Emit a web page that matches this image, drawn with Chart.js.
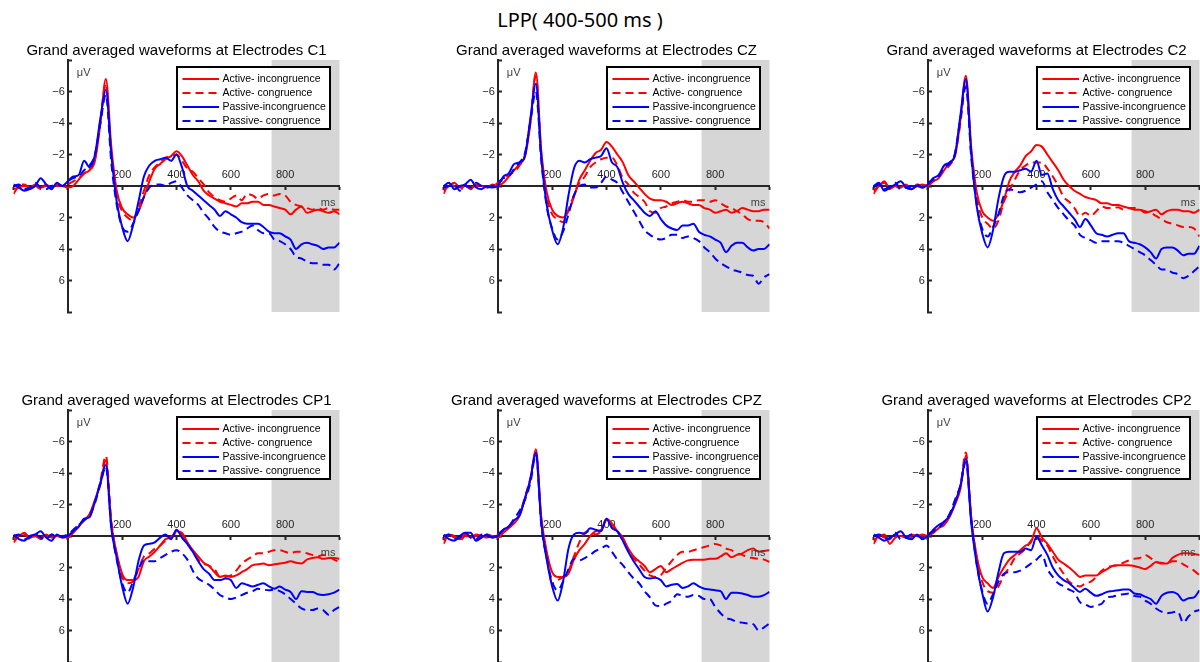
<!DOCTYPE html>
<html>
<head>
<meta charset="utf-8">
<title>LPP (400-500 ms)</title>
<script src="https://cdn.jsdelivr.net/npm/chart.js@4.4.1/dist/chart.umd.min.js"></script>
<style>
  html, body { margin: 0; padding: 0; background: #fff; }
  body { width: 1200px; height: 662px; overflow: hidden; position: relative; }
  #suptitle {
    position: absolute; left: 0; top: 7px; width: 1160px;
    text-align: center; font: 20px "Noto Sans", sans-serif; line-height: 26px;
    color: #000; white-space: pre;
  }
  canvas { position: absolute; }
</style>
</head>
<body>
<div id="suptitle">LPP( 400-500 ms )</div>
<script>
// Epoch sample times (ms)
const TIME_MS = [
  -200, -180, -160, -140, -120, -100, -80, -60, -40, -20,
  0, 20, 40, 60, 80, 100, 120, 140, 160, 180,
  200, 220, 240, 260, 280, 300, 320, 340, 360, 380,
  400, 420, 440, 460, 480, 500, 520, 540, 560, 580,
  600, 620, 640, 660, 680, 700, 720, 740, 760, 780,
  800, 820, 840, 860, 880, 900, 920, 940, 960, 980,
  1000
];

const X_TICK_LABELS = [200, 400, 600, 800];
const Y_TICK_LABELS = [-6, -4, -2, 2, 4, 6];
const SHADE_WINDOW = [750, 1000];

const CONDITIONS = ['Active- incongruence', 'Active- congruence', 'Passive-incongruence', 'Passive- congruence'];
const CONDITIONS_CPZ = ['Active- incongruence', 'Active-congruence', 'Passive- incongruence', 'Passive- congruence'];

// ---- C1 (µV) ----
const C1_ACT_INC = [
  0.2, 0.1, 0.0, 0.1, -0.1, 0.1, 0.0, 0.1, -0.1, 0.0,
  0.1, 0.0, -0.4, -0.8, -1.0, -1.6, -4.0, -6.8, -2.5, 0.3,
  1.4, 1.8, 2.0, 1.6, 0.7, -0.3, -1.1, -1.4, -1.7, -1.9,
  -2.2, -1.9, -1.3, -0.7, -0.3, 0.3, 0.6, 0.8, 1.0, 1.1,
  1.2, 1.3, 1.1, 1.1, 1.0, 1.0, 1.2, 1.2, 1.3, 1.4,
  1.5, 1.8, 1.5, 1.3, 1.7, 1.6, 1.5, 1.6, 1.7, 1.6,
  1.8];
const C1_ACT_CON = [
  0.5, 0.0, -0.1, 0.1, 0.0, 0.2, -0.1, 0.1, 0.0, 0.0,
  -0.1, -0.3, -0.5, -0.8, -1.1, -1.8, -4.2, -6.5, -2.0, 0.6,
  1.6, 2.0, 2.2, 1.4, 0.3, -0.7, -1.2, -1.5, -1.8, -1.9,
  -2.0, -1.6, -1.1, -0.9, -0.5, -0.1, 0.4, 0.7, 0.9, 1.0,
  0.8, 0.6, 0.9, 0.5, 0.6, 0.8, 0.6, 0.5, 0.6, 0.5,
  0.6, 1.0, 1.2, 1.3, 1.4, 1.5, 1.4, 1.5, 1.4, 1.5,
  1.5];
const C1_PAS_INC = [
  -0.1, 0.1, 0.3, 0.2, 0.0, -0.5, -0.1, 0.2, -0.2, 0.0,
  -0.3, -0.6, -0.7, -1.6, -1.2, -2.0, -4.3, -6.1, -2.0, 1.0,
  2.6, 3.5, 2.5, 1.0, -0.6, -1.3, -1.6, -1.7, -1.8, -1.6,
  -2.0, -1.2, 0.0, 0.3, 0.6, 0.9, 1.2, 1.5, 1.9, 1.6,
  1.8, 2.0, 2.3, 2.4, 2.4, 2.4, 2.6, 2.9, 3.0, 3.0,
  3.2, 3.4, 4.0, 3.7, 3.6, 3.7, 3.8, 4.0, 3.9, 3.9,
  3.6];
const C1_PAS_CON = [
  0.0, -0.1, 0.2, 0.1, -0.2, 0.1, 0.2, 0.0, -0.1, 0.0,
  -0.3, -0.5, -0.6, -1.0, -1.3, -2.0, -4.0, -5.8, -1.5, 1.2,
  2.6, 2.9, 2.4, 1.6, 0.7, 0.1, -0.1, -0.1, 0.0, -0.2,
  -0.3, 0.1, 0.6, 0.9, 1.2, 1.7, 2.1, 2.6, 2.9, 3.0,
  3.1, 3.0, 2.9, 2.7, 2.5, 2.8, 3.0, 3.0, 3.4, 3.5,
  3.7, 4.0, 4.5, 4.6, 4.8, 4.9, 4.9, 5.0, 5.0, 5.3,
  4.9];

// ---- CZ (µV) ----
const CZ_ACT_INC = [
  0.3, 0.0, -0.2, 0.1, 0.0, 0.2, -0.1, 0.0, 0.1, -0.1,
  0.0, -0.2, -0.6, -1.0, -1.4, -1.9, -4.0, -7.2, -2.2, 0.4,
  1.5, 1.9, 2.0, 1.6, 0.7, -0.4, -1.0, -1.6, -2.1, -2.3,
  -2.8, -2.5, -2.0, -1.5, -0.7, -0.3, 0.1, 0.5, 0.8, 0.9,
  0.9, 1.0, 1.2, 1.1, 1.0, 1.1, 1.2, 1.2, 1.4, 1.5,
  1.7, 1.6, 1.5, 1.7, 1.6, 1.4, 1.5, 1.6, 1.6, 1.5,
  1.5];
const CZ_ACT_CON = [
  0.5, -0.1, 0.0, 0.3, -0.1, 0.1, 0.0, 0.1, 0.0, 0.0,
  -0.2, -0.4, -0.7, -0.9, -1.3, -2.0, -4.2, -7.0, -2.0, 0.7,
  1.8, 2.1, 2.3, 1.5, 0.6, -0.2, -0.6, -1.2, -1.5, -1.7,
  -1.8, -1.8, -1.3, -0.5, -0.1, 0.4, 0.7, 1.0, 1.6, 1.7,
  1.4, 1.3, 1.1, 1.0, 0.9, 1.0, 1.0, 0.9, 0.9, 1.0,
  0.9, 1.1, 1.3, 1.4, 1.6, 1.8, 2.1, 2.2, 2.2, 2.3,
  2.7];
const CZ_PAS_INC = [
  0.0, -0.2, 0.2, 0.0, -0.1, -0.4, 0.1, 0.2, 0.0, 0.1,
  0.0, -0.6, -0.8, -1.4, -1.5, -1.9, -4.3, -6.5, -1.8, 1.2,
  2.8, 3.7, 2.7, 0.6, -1.1, -1.6, -1.5, -1.7, -1.8, -1.9,
  -2.4, -1.5, -1.2, -0.2, 0.5, 0.9, 1.3, 1.7, 1.9, 1.6,
  2.1, 2.5, 2.7, 2.8, 2.5, 2.5, 2.4, 2.9, 3.1, 3.2,
  3.4, 3.6, 4.2, 3.8, 3.6, 3.6, 3.9, 4.1, 4.0, 4.0,
  3.7];
const CZ_PAS_CON = [
  0.1, 0.0, -0.1, 0.3, 0.0, 0.1, -0.2, 0.0, 0.1, 0.0,
  -0.2, -0.5, -0.6, -1.1, -1.5, -2.1, -4.1, -6.0, -1.6, 1.3,
  2.7, 3.4, 2.9, 1.8, 0.6, 0.0, -0.1, 0.1, 0.1, -0.2,
  -0.6, -0.4, -0.2, 0.4, 1.0, 1.6, 2.2, 2.8, 3.1, 3.3,
  3.4, 3.3, 3.1, 3.1, 3.3, 3.2, 3.3, 3.5, 3.9, 4.2,
  4.6, 4.9, 5.1, 5.3, 5.4, 5.5, 5.65, 5.7, 6.2, 5.8,
  5.6];

// ---- C2 (µV) ----
const C2_ACT_INC = [
  0.3, 0.0, -0.3, 0.2, 0.0, 0.1, -0.1, 0.2, 0.0, -0.1,
  0.0, -0.3, -0.5, -1.0, -1.5, -1.9, -4.2, -7.0, -2.4, 0.4,
  1.6, 2.0, 2.2, 1.8, 0.9, -0.3, -0.9, -1.3, -1.9, -2.2,
  -2.6, -2.5, -2.0, -1.5, -1.0, -0.4, 0.0, 0.3, 0.5, 0.7,
  0.8, 0.9, 1.1, 1.1, 1.2, 1.2, 1.3, 1.4, 1.5, 1.5,
  1.7, 1.6, 1.5, 1.8, 1.6, 1.5, 1.5, 1.6, 1.6, 1.7,
  1.5];
const C2_ACT_CON = [
  0.5, 0.0, -0.2, 0.1, 0.0, 0.2, 0.0, 0.1, -0.1, 0.0,
  -0.1, -0.3, -0.6, -1.0, -1.3, -2.0, -4.0, -6.7, -2.0, 0.8,
  2.0, 2.4, 2.7, 2.2, 1.0, 0.3, -0.4, -1.0, -1.3, -1.5,
  -1.5, -1.5, -1.1, -0.6, 0.0, 0.7, 1.0, 1.4, 1.9, 1.7,
  1.9, 1.6, 1.3, 1.4, 1.4, 1.35, 1.5, 1.4, 1.4, 1.5,
  1.6, 1.7, 1.9, 2.1, 2.3, 2.4, 2.5, 2.6, 2.6, 2.7,
  3.2];
const C2_PAS_INC = [
  0.0, -0.2, 0.3, 0.1, -0.1, -0.3, 0.1, 0.2, 0.0, 0.1,
  -0.1, -0.5, -0.7, -1.3, -1.5, -2.0, -4.5, -6.8, -2.0, 1.3,
  3.0, 3.9, 2.8, 0.8, -0.6, -0.9, -0.9, -1.0, -1.1, -0.9,
  -1.6, -0.7, -0.8, 0.2, 0.9, 1.3, 1.7, 2.1, 2.6, 2.1,
  2.5, 3.0, 3.1, 3.2, 3.1, 3.0, 3.0, 3.5, 3.6, 3.7,
  3.9, 4.2, 4.6, 4.0, 3.9, 3.9, 4.1, 4.4, 4.3, 4.3,
  3.8];
const C2_PAS_CON = [
  0.1, -0.1, 0.2, 0.0, -0.2, 0.2, 0.1, 0.0, -0.1, 0.1,
  -0.2, -0.4, -0.6, -1.2, -1.4, -2.1, -4.3, -6.3, -1.8, 1.2,
  2.7, 3.2, 2.6, 1.8, 0.6, 0.2, 0.3, 0.4, 0.3, 0.1,
  -0.1, -0.3, 0.4, 0.9, 1.4, 1.8, 2.2, 2.5, 3.1, 3.3,
  3.45, 3.6, 3.5, 3.5, 3.5, 3.5, 3.6, 3.8, 4.0, 4.2,
  4.4, 4.7, 5.0, 5.3, 5.3, 5.5, 5.6, 5.85, 5.7, 5.4,
  5.1];

// ---- CP1 (µV) ----
const CP1_ACT_INC = [
  0.2, 0.0, -0.2, 0.1, 0.0, 0.2, -0.1, 0.1, 0.0, 0.0,
  0.1, -0.2, -0.6, -1.0, -1.4, -2.3, -3.3, -4.8, -0.8, 1.1,
  2.4, 2.8, 2.8, 2.6, 1.6, 1.3, 1.0, 0.6, 0.2, 0.1,
  -0.3, -0.2, 0.4, 0.9, 1.3, 1.7, 1.9, 2.3, 2.6, 2.5,
  2.6, 2.5, 2.3, 2.1, 1.85, 1.8, 1.75, 1.85, 1.8, 1.75,
  1.7, 1.6, 1.7, 1.75, 1.5, 1.4, 1.35, 1.45, 1.4, 1.4,
  1.45];
const CP1_ACT_CON = [
  0.4, 0.0, -0.1, 0.2, 0.0, 0.1, 0.1, -0.1, 0.0, 0.1,
  0.0, -0.3, -0.7, -1.0, -1.3, -2.2, -3.5, -5.1, -1.0, 1.2,
  2.6, 3.0, 2.9, 2.1, 1.3, 1.1, 0.8, 0.6, 0.3, 0.1,
  -0.2, -0.1, 0.5, 1.0, 1.5, 1.75, 1.9, 2.1, 2.6, 2.6,
  2.5, 2.2, 1.75, 1.5, 1.3, 1.1, 1.1, 1.0, 0.9, 0.9,
  1.0, 1.1, 1.0, 1.0, 1.1, 1.2, 1.3, 1.2, 1.3, 1.5,
  1.65];
const CP1_PAS_INC = [
  -0.1, 0.2, 0.3, 0.0, -0.1, -0.3, 0.1, 0.3, -0.1, 0.1,
  0.0, -0.3, -0.6, -1.1, -1.2, -2.2, -3.4, -4.5, -0.5, 1.4,
  3.2, 4.3, 3.3, 1.6, 0.6, 0.5, 0.4, 0.1, -0.1, 0.2,
  -0.4, 0.1, 0.5, 1.0, 1.6, 2.1, 2.4, 2.8, 2.8, 2.7,
  2.8, 3.3, 3.0, 3.1, 3.2, 3.1, 3.0, 3.2, 3.35, 3.2,
  3.4, 3.55, 4.0, 3.5, 3.55, 3.55, 3.7, 3.75, 3.7, 3.6,
  3.4];
const CP1_PAS_CON = [
  0.0, -0.1, 0.2, 0.1, -0.1, 0.1, 0.2, -0.1, 0.0, 0.0,
  -0.1, -0.4, -0.7, -1.0, -1.3, -2.1, -3.3, -4.4, -0.6, 1.5,
  3.0, 3.6, 2.9, 2.1, 1.55, 1.6, 1.6, 1.4, 1.2, 1.0,
  0.9, 1.1, 1.5, 2.2, 2.7, 2.9, 3.1, 3.4, 3.75, 3.9,
  4.0, 3.9, 3.75, 3.6, 3.5, 3.35, 3.4, 3.45, 3.4, 3.5,
  3.7, 4.0, 4.3, 4.6, 4.7, 4.7, 4.6, 4.7, 5.0, 4.7,
  4.5];

// ---- CPZ (µV) ----
const CPZ_ACT_INC = [
  0.3, -0.1, 0.1, 0.2, -0.1, 0.1, 0.0, 0.1, -0.1, 0.0,
  0.1, -0.2, -0.5, -0.8, -1.3, -2.4, -3.6, -5.5, -1.2, 1.0,
  2.3, 2.6, 2.6, 2.4, 1.5, 0.9, 0.5, 0.0, -0.3, -0.4,
  -1.1, -0.8, -0.3, 0.1, 0.8, 1.3, 1.6, 1.9, 2.3, 2.1,
  1.9, 2.3, 2.1, 1.9, 1.7, 1.55, 1.5, 1.5, 1.5, 1.45,
  1.45, 1.3, 1.1, 1.35, 1.2, 1.1, 0.9, 0.8, 1.0, 0.95,
  0.9];
const CPZ_ACT_CON = [
  0.5, -0.1, 0.0, 0.3, 0.0, 0.1, -0.1, 0.0, 0.1, 0.0,
  -0.1, -0.3, -0.6, -0.9, -1.4, -2.5, -3.7, -5.3, -1.0, 1.3,
  3.0, 2.8, 2.6, 2.2, 1.3, 0.4, -0.2, -0.3, -0.1, -0.3,
  -1.0, -0.7, -0.3, 0.3, 0.9, 1.4, 1.8, 2.2, 2.5, 2.6,
  2.5, 2.0, 1.6, 1.2, 1.0, 1.0, 0.9, 0.8, 0.7, 0.6,
  0.5, 0.6, 0.8, 0.9, 1.1, 1.2, 1.35, 1.4, 1.45, 1.5,
  1.65];
const CPZ_PAS_INC = [
  -0.1, 0.2, 0.3, 0.0, -0.2, -0.2, 0.3, 0.1, -0.1, 0.1,
  0.0, -0.4, -0.6, -1.0, -1.3, -2.4, -3.6, -5.3, -0.8, 1.5,
  3.2, 4.1, 2.9, 0.8, -0.1, -0.2, -0.15, -0.5, -0.4, -0.3,
  -1.1, -0.5, -0.3, 0.3, 1.0, 1.6, 2.1, 2.6, 2.7, 2.65,
  2.8, 3.2, 3.1, 3.05, 3.3, 3.2, 3.0, 3.2, 3.35, 3.4,
  3.45, 3.5, 4.0, 3.6, 3.6, 3.65, 3.75, 3.85, 3.85, 3.75,
  3.55];
const CPZ_PAS_CON = [
  0.0, -0.1, 0.2, 0.1, -0.2, 0.1, 0.2, -0.1, 0.0, 0.1,
  -0.1, -0.4, -0.6, -1.1, -1.6, -2.3, -3.4, -5.2, -0.7, 1.4,
  2.9, 3.45, 2.9, 2.1, 1.45, 1.55, 1.4, 1.2, 0.95, 0.8,
  0.6, 1.0, 1.5, 1.85, 2.3, 2.7, 3.0, 3.5, 3.9, 4.4,
  4.45, 4.3, 4.1, 3.7, 3.8, 3.85, 3.75, 3.8, 4.0, 4.0,
  4.5, 4.9, 5.2, 5.3, 5.45, 5.5, 5.55, 5.6, 6.0, 5.8,
  5.55];

// ---- CP2 (µV) ----
const CP2_ACT_INC = [
  0.3, 0.0, -0.1, 0.5, 0.1, 0.0, 0.1, -0.1, 0.0, -0.1,
  0.0, -0.2, -0.5, -0.7, -1.2, -2.0, -3.0, -5.1, -1.0, 1.3,
  2.6, 3.0, 3.3, 2.6, 2.0, 1.5, 1.2, 0.9, 0.6, 0.4,
  -0.5, 0.1, 0.5, 1.0, 1.5, 1.75, 2.0, 2.3, 2.6, 2.5,
  2.5, 2.5, 2.3, 2.1, 1.9, 1.85, 1.85, 1.85, 1.9, 2.0,
  2.1, 1.9, 1.65, 1.75, 1.75, 1.4, 1.2, 1.1, 1.1, 1.15,
  1.2];
const CP2_ACT_CON = [
  0.5, 0.0, 0.1, 0.2, -0.1, 0.1, 0.0, 0.1, 0.0, 0.0,
  -0.1, -0.3, -0.5, -0.9, -1.3, -2.2, -3.2, -5.3, -1.2, 1.4,
  2.9, 3.5, 3.6, 3.2, 2.5, 2.0, 1.4, 1.1, 0.8, 0.3,
  0.05, 0.3, 0.6, 1.3, 1.9, 2.4, 2.9, 3.1, 3.2, 3.0,
  2.9, 2.6, 2.2, 2.0, 1.9, 1.85, 1.7, 1.55, 1.45, 1.4,
  1.2, 1.4, 1.65, 1.7, 1.75, 1.6, 1.6, 1.8, 2.0, 2.2,
  2.5];
const CP2_PAS_INC = [
  -0.1, 0.1, 0.3, 0.1, -0.1, -0.3, 0.1, 0.2, -0.1, 0.2,
  0.0, -0.4, -0.7, -0.9, -1.3, -2.1, -3.2, -4.9, -0.8, 1.8,
  3.6, 4.8, 3.9, 2.3, 1.1, 1.0, 1.0, 1.0, 0.8, 0.9,
  0.05, 0.6, 1.2, 2.0, 2.5, 2.8, 3.0, 3.3, 3.55, 3.35,
  3.6, 3.8, 3.7, 3.55, 3.5, 3.45, 3.4, 3.4, 3.65, 3.7,
  3.85, 4.0, 4.3, 3.8, 3.6, 3.55, 3.7, 4.1, 3.95, 3.9,
  3.45];
const CP2_PAS_CON = [
  0.0, -0.1, 0.1, 0.2, -0.2, 0.2, 0.1, -0.1, 0.0, 0.1,
  -0.1, -0.3, -0.5, -0.9, -1.4, -2.3, -3.2, -4.7, -1.0, 1.8,
  3.5, 4.3, 3.7, 2.9, 2.4, 2.3, 2.3, 2.2, 2.0, 1.75,
  1.5, 1.2, 2.1, 2.6, 3.0, 3.2, 3.4, 3.6, 4.2, 4.35,
  4.5, 4.4, 4.3, 3.9, 3.85, 3.75, 3.7, 3.65, 3.8, 3.85,
  4.1, 4.3, 4.6, 4.8, 4.9, 4.85, 4.8, 5.5, 5.1, 4.8,
  4.7];

const PANELS = [
  { name: 'C1',  col: 0, row: 0, labels: CONDITIONS,     series: [C1_ACT_INC, C1_ACT_CON, C1_PAS_INC, C1_PAS_CON] },
  { name: 'CZ',  col: 1, row: 0, labels: CONDITIONS,     series: [CZ_ACT_INC, CZ_ACT_CON, CZ_PAS_INC, CZ_PAS_CON] },
  { name: 'C2',  col: 2, row: 0, labels: CONDITIONS,     series: [C2_ACT_INC, C2_ACT_CON, C2_PAS_INC, C2_PAS_CON] },
  { name: 'CP1', col: 0, row: 1, labels: CONDITIONS,     series: [CP1_ACT_INC, CP1_ACT_CON, CP1_PAS_INC, CP1_PAS_CON] },
  { name: 'CPZ', col: 1, row: 1, labels: CONDITIONS_CPZ, series: [CPZ_ACT_INC, CPZ_ACT_CON, CPZ_PAS_INC, CPZ_PAS_CON] },
  { name: 'CP2', col: 2, row: 1, labels: CONDITIONS,     series: [CP2_ACT_INC, CP2_ACT_CON, CP2_PAS_INC, CP2_PAS_CON] }
];

const LINE_STYLES = [
  { color: '#ff0000', dash: [] },
  { color: '#ff0000', dash: [8, 5] },
  { color: '#0000ff', dash: [] },
  { color: '#0000ff', dash: [8, 5] }
];

const AXIS_COLOR = '#262626';
const FONT_FAMILY = '"Liberation Sans", Arial, Helvetica, sans-serif';
Chart.defaults.font.family = FONT_FAMILY;

// grey band marking the late analysis window
const shadePlugin = {
  id: 'shadeWindow',
  beforeDraw(chart) {
    const { ctx, chartArea: a, scales: { x } } = chart;
    const x0 = x.getPixelForValue(SHADE_WINDOW[0]);
    const x1 = x.getPixelForValue(SHADE_WINDOW[1]);
    ctx.save();
    ctx.fillStyle = '#d6d6d6';
    ctx.fillRect(x0, a.top, x1 - x0, a.bottom - a.top);
    ctx.restore();
  }
};

// unit labels next to the crossing axes
const unitsPlugin = {
  id: 'axisUnits',
  afterDraw(chart) {
    const { ctx, chartArea: a, scales: { x, y } } = chart;
    ctx.save();
    ctx.font = '11px ' + FONT_FAMILY;
    ctx.fillStyle = '#404040';
    ctx.textBaseline = 'middle';
    ctx.textAlign = 'left';
    ctx.fillText('\u03bcV', x.getPixelForValue(0) + 9, a.top + 13);
    ctx.textAlign = 'right';
    ctx.fillText('ms', a.right - 4, y.getPixelForValue(0) + 17);
    ctx.restore();
  }
};

// boxed legend in the upper-right corner of the plot area
const boxLegendPlugin = {
  id: 'boxLegend',
  afterDraw(chart) {
    const { ctx, chartArea: a } = chart;
    const w = 153, h = 62;
    const left = a.right - 9.5 - w, top = a.top + 7;
    ctx.save();
    ctx.fillStyle = '#ffffff';
    ctx.fillRect(left, top, w, h);
    ctx.lineWidth = 2;
    ctx.strokeStyle = '#000000';
    ctx.strokeRect(left, top, w, h);
    ctx.font = '10.5px ' + FONT_FAMILY;
    ctx.fillStyle = '#000000';
    ctx.textBaseline = 'middle';
    ctx.textAlign = 'left';
    chart.data.datasets.forEach((ds, i) => {
      const yy = top + 12 + i * 14;
      ctx.beginPath();
      ctx.setLineDash(ds.borderDash || []);
      ctx.lineWidth = 2;
      ctx.strokeStyle = ds.borderColor;
      ctx.moveTo(left + 5.5, yy);
      ctx.lineTo(left + 42, yy);
      ctx.stroke();
      ctx.setLineDash([]);
      ctx.fillText(ds.label, left + 45.5, yy);
    });
    ctx.restore();
  }
};

function yTickLabel(v) {
  if (!Y_TICK_LABELS.includes(v)) return '';
  return (v < 0 ? '\u2212' + Math.abs(v) : String(v)) + ' ';
}
function xTickLabel(v) {
  return X_TICK_LABELS.includes(v) ? String(v) : '';
}

PANELS.forEach((p) => {
  const canvas = document.createElement('canvas');
  canvas.width = 430;
  canvas.height = 350;
  canvas.style.left = (p.col * 430) + 'px';
  canvas.style.top = (p.row * 350) + 'px';
  document.body.appendChild(canvas);

  // later conditions are painted over earlier ones
  const datasets = p.series.map((vals, i) => ({
    label: p.labels[i],
    data: vals.map((v, k) => ({ x: TIME_MS[k], y: v })),
    borderColor: LINE_STYLES[i].color,
    borderDash: LINE_STYLES[i].dash,
    borderWidth: 2,
    pointRadius: 0,
    fill: false,
    order: p.series.length - i,
    cubicInterpolationMode: 'monotone'
  }));

  new Chart(canvas, {
    type: 'line',
    data: { datasets },
    options: {
      responsive: false,
      animation: false,
      devicePixelRatio: 1,
      events: [],
      layout: { padding: { left: 13.5, right: 90.5, top: 0, bottom: 38 } },
      plugins: {
        legend: { display: false },
        tooltip: { enabled: false },
        title: {
          display: true,
          fullSize: false,
          text: 'Grand averaged waveforms at Electrodes ' + p.name,
          color: '#000000',
          font: { size: 15, weight: 'normal', family: FONT_FAMILY, lineHeight: 1.2 },
          padding: { top: 42, bottom: 0 }
        }
      },
      scales: {
        x: {
          type: 'linear',
          min: -200,
          max: 1000,
          position: { y: 0 },
          ticks: {
            stepSize: 200,
            autoSkip: false,
            maxRotation: 0,
            padding: -21,
            color: AXIS_COLOR,
            font: { size: 11 },
            callback: xTickLabel
          },
          grid: { drawOnChartArea: false, tickLength: 3, tickWidth: 2, color: AXIS_COLOR },
          border: { display: true, color: AXIS_COLOR, width: 2 }
        },
        y: {
          type: 'linear',
          min: -8,
          max: 8,
          reverse: true,
          position: { x: 0 },
          ticks: {
            stepSize: 2,
            autoSkip: false,
            color: AXIS_COLOR,
            font: { size: 11 },
            callback: yTickLabel
          },
          grid: { drawOnChartArea: false, tickLength: -5, tickWidth: 2, color: AXIS_COLOR },
          border: { display: true, color: AXIS_COLOR, width: 2 }
        }
      }
    },
    plugins: [shadePlugin, unitsPlugin, boxLegendPlugin]
  });
});
</script>
</body>
</html>
